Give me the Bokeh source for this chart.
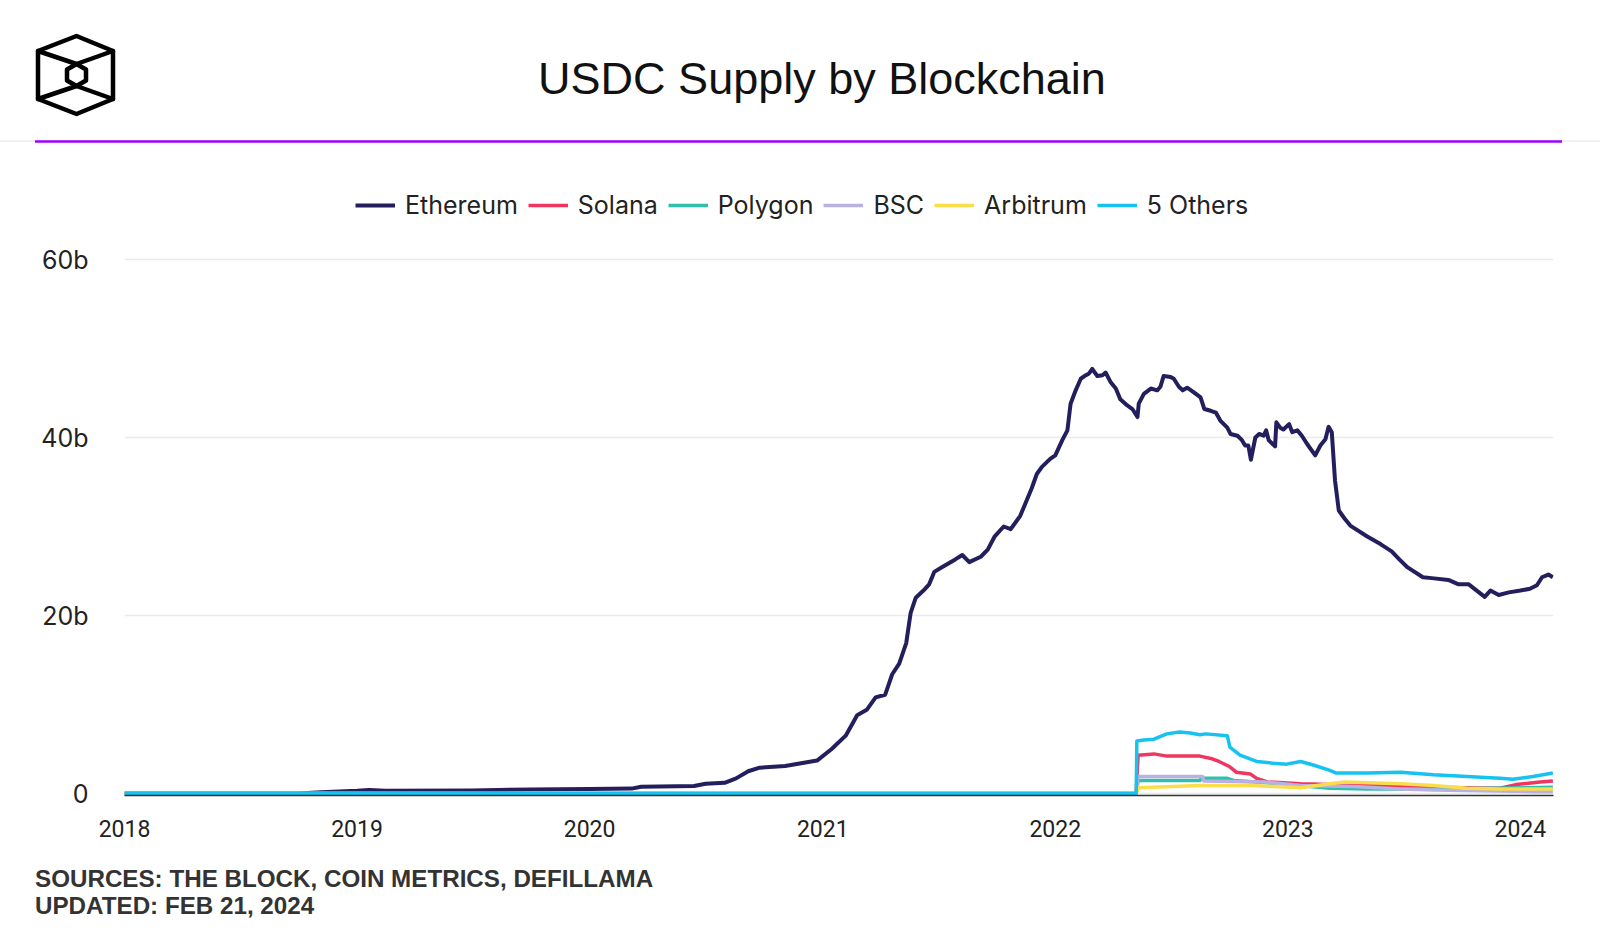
import pandas as pd
from bokeh.plotting import figure
from bokeh.models import Range1d, Legend, LegendItem, FixedTicker, DatetimeTickFormatter, Div
from bokeh.layouts import column
from bokeh.embed import file_html
from bokeh.resources import INLINE

# ---------------- data (billions of USDC) ----------------
TITLE = "USDC Supply by Blockchain"
SOURCE_LINE = "SOURCES: THE BLOCK, COIN METRICS, DEFILLAMA"
UPDATED_LINE = "UPDATED: FEB 21, 2024"
SERIES = ["Ethereum", "Solana", "Polygon", "BSC", "Arbitrum", "5 Others"]
COLORS = ["#231f5c", "#f0365f", "#2fbfaa", "#b7b2e3", "#fbdc4b", "#16c3f0"]
Y_TICKS = [0, 20, 40, 60]
Y_TICK_LABELS = ["0", "20b", "40b", "60b"]
X_TICK_YEARS = [2018, 2019, 2020, 2021, 2022, 2023, 2024]

eth_dates = [
    "2018-01-01", "2018-10-01", "2018-11-06", "2019-01-01", "2019-01-20", "2019-02-15",
    "2019-07-01", "2019-10-01", "2020-01-01", "2020-03-07", "2020-03-22", "2020-06-13",
    "2020-07-01", "2020-07-31", "2020-08-18", "2020-09-06", "2020-09-24", "2020-11-03",
    "2020-12-23", "2021-01-15", "2021-02-06", "2021-02-24", "2021-03-11", "2021-03-25",
    "2021-04-09", "2021-04-20", "2021-05-01", "2021-05-12", "2021-05-19", "2021-05-27",
    "2021-06-08", "2021-06-17", "2021-06-25", "2021-07-09", "2021-07-28", "2021-08-08",
    "2021-08-19", "2021-09-06", "2021-09-17", "2021-09-28", "2021-10-12", "2021-10-23",
    "2021-11-07", "2021-11-25", "2021-12-03", "2021-12-11", "2021-12-24",
    "2022-01-01", "2022-01-12", "2022-01-20", "2022-01-25", "2022-02-02", "2022-02-10",
    "2022-02-18", "2022-02-23", "2022-02-28", "2022-03-08", "2022-03-16", "2022-03-21",
    "2022-03-29", "2022-04-06", "2022-04-13", "2022-04-24", "2022-05-02", "2022-05-10",
    "2022-05-12", "2022-05-20", "2022-05-31", "2022-06-10", "2022-06-15", "2022-06-20",
    "2022-07-01", "2022-07-06", "2022-07-14", "2022-07-20", "2022-07-27", "2022-08-06",
    "2022-08-17", "2022-08-23", "2022-09-02", "2022-09-10", "2022-09-17", "2022-09-28",
    "2022-10-03", "2022-10-14", "2022-10-21", "2022-10-26", "2022-10-31", "2022-11-04",
    "2022-11-11", "2022-11-17", "2022-11-24", "2022-11-28", "2022-12-02", "2022-12-12",
    "2022-12-14", "2022-12-20", "2022-12-25", "2023-01-03", "2023-01-08", "2023-01-16",
    "2023-01-23", "2023-01-31", "2023-02-13", "2023-02-21", "2023-03-01", "2023-03-06",
    "2023-03-11", "2023-03-16", "2023-03-22", "2023-03-31", "2023-04-09", "2023-05-05",
    "2023-05-27", "2023-06-13", "2023-06-25", "2023-07-08", "2023-08-01", "2023-08-15",
    "2023-09-10", "2023-09-26", "2023-10-12", "2023-10-28", "2023-11-06", "2023-11-15",
    "2023-11-28", "2023-12-14", "2024-01-01", "2024-01-16", "2024-01-27", "2024-02-04",
    "2024-02-14", "2024-02-21",
]
eth_values = [
    0.0, 0.0, 0.15, 0.3, 0.4, 0.3,
    0.35, 0.45, 0.5, 0.55, 0.75, 0.85,
    1.1, 1.2, 1.7, 2.5, 2.9, 3.1,
    3.7, 5.0, 6.5, 8.8, 9.4, 10.8,
    11.1, 13.4, 14.6, 16.9, 20.3, 22.0,
    22.8, 23.5, 24.9, 25.5, 26.3, 26.8,
    26.0, 26.6, 27.4, 28.9, 30.0, 29.7,
    31.2, 34.3, 35.9, 36.7, 37.6,
    38.0, 39.7, 40.8, 43.8, 45.3, 46.6,
    47.0, 47.2, 47.7, 46.9, 47.0, 47.3,
    46.2, 45.5, 44.3, 43.6, 43.2, 42.3,
    43.8, 44.9, 45.5, 45.3, 45.7, 46.9,
    46.8, 46.6, 45.7, 45.3, 45.6, 45.1,
    44.5, 43.2, 43.0, 42.8, 41.9, 41.1,
    40.4, 40.2, 39.7, 39.1, 39.1, 37.5,
    40.0, 40.4, 40.2, 40.8, 39.7, 39.0,
    41.7, 41.1, 40.9, 41.5, 40.6, 40.8,
    40.2, 39.3, 38.0, 39.1, 39.8, 41.2,
    40.6, 35.2, 31.8, 30.9, 30.1, 28.9,
    28.0, 27.2, 26.3, 25.4, 24.3, 24.2,
    24.0, 23.5, 23.5, 22.6, 22.1, 22.8,
    22.3, 22.6, 22.8, 23.0, 23.4, 24.3,
    24.6, 24.3,
]

sol_dates = ["2018-01-01", "2022-05-08", "2022-05-11", "2022-06-05", "2022-06-25", "2022-08-16",
             "2022-09-04", "2022-09-15", "2022-10-02", "2022-10-12", "2022-11-03", "2022-11-13",
             "2022-11-30", "2023-01-21", "2023-03-08", "2023-08-18", "2023-11-30", "2023-12-25",
             "2024-02-01", "2024-02-21"]
sol_values = [0.0, 0.0, 4.3, 4.45, 4.2, 4.2,
              3.9, 3.6, 3.0, 2.4, 2.2, 1.7,
              1.3, 1.1, 1.0, 0.7, 0.6, 1.0,
              1.3, 1.4]

poly_dates = ["2018-01-01", "2022-05-08", "2022-05-11", "2022-08-16", "2022-08-18", "2022-09-28",
              "2022-10-08", "2022-11-30", "2023-03-08", "2023-05-06", "2023-08-18", "2024-02-21"]
poly_values = [0.0, 0.0, 1.46, 1.46, 1.7, 1.7,
               1.46, 1.2, 0.6, 0.5, 0.5, 0.7]

bsc_dates = ["2018-01-01", "2022-05-08", "2022-05-11", "2022-08-20", "2022-08-22", "2022-11-25",
             "2023-01-21", "2023-04-15", "2023-05-06", "2023-06-27", "2023-08-18", "2024-01-21",
             "2024-02-21"]
bsc_values = [0.0, 0.0, 1.9, 1.9, 1.4, 1.3,
              0.9, 0.8, 0.7, 0.5, 0.4, 0.2,
              0.2]

arb_dates = ["2018-01-01", "2022-05-08", "2022-05-11", "2022-08-16", "2022-11-05", "2023-01-21",
             "2023-03-08", "2023-04-01", "2023-06-27", "2023-08-18", "2023-10-09", "2023-11-30",
             "2024-02-21"]
arb_values = [0.0, 0.0, 0.64, 0.9, 0.9, 0.64,
              1.1, 1.3, 1.1, 0.9, 0.6, 0.5,
              0.5]

oth_dates = ["2018-01-01", "2022-05-08", "2022-05-09", "2022-05-20", "2022-06-05", "2022-06-25",
             "2022-07-15", "2022-08-01", "2022-08-16", "2022-08-25", "2022-09-28", "2022-10-02",
             "2022-10-18", "2022-11-13", "2022-12-09", "2022-12-30", "2023-01-21", "2023-02-10",
             "2023-03-08", "2023-03-18", "2023-05-06", "2023-06-27", "2023-08-18", "2023-10-09",
             "2023-11-30", "2023-12-20", "2024-01-21", "2024-02-21"]
oth_values = [0.0, 0.0, 5.9, 6.0, 6.1, 6.7,
              6.9, 6.8, 6.6, 6.7, 6.5, 5.2,
              4.3, 3.6, 3.4, 3.3, 3.6, 3.2,
              2.6, 2.3, 2.3, 2.4, 2.1, 1.9,
              1.7, 1.6, 1.9, 2.3]

series_data = [
    (eth_dates, eth_values), (sol_dates, sol_values), (poly_dates, poly_values),
    (bsc_dates, bsc_values), (arb_dates, arb_values), (oth_dates, oth_values),
]

# ---------------- layout ----------------
W = 1600
HEADER_H = 150
MAIN_H = 698
FOOTER_H = 85
FRAME_TOP = 35      # frame top inside main figure (legend row lives inside the frame)
FRAME_H = 610
PX_PER_B = 8.9
Y_MIN = -2.0 / PX_PER_B
Y_MAX = Y_MIN + FRAME_H / PX_PER_B

# Header: logo, title and separator lines (inline SVG with real text)
header_html = f"""
<svg xmlns="http://www.w3.org/2000/svg" width="{W}" height="{HEADER_H}" style="display:block">
  <g fill="none" stroke="#000000" stroke-width="4.5" stroke-linejoin="round" stroke-linecap="round">
    <polygon points="76.5,36 113,51 113,99 76.5,114 38,99 38,51"/>
    <polyline points="38,51 76.5,64 113,51"/>
    <polyline points="38,99 76.5,86 113,99"/>
    <polygon points="76.5,64 86,69.5 86,80.5 76.5,86 67,80.5 67,69.5"/>
  </g>
  <text x="822" y="94" text-anchor="middle" font-family="Inter" font-size="45px" fill="#111111">{TITLE}</text>
  <line x1="0" y1="141" x2="{W}" y2="141" stroke="#ececec" stroke-width="1.5"/>
  <line x1="35" y1="141.5" x2="1562" y2="141.5" stroke="#a100ff" stroke-width="2.5"/>
</svg>
"""
header = Div(text=header_html, width=W, height=HEADER_H, margin=0)

# Main chart
x_start = pd.Timestamp("2018-01-01")
x_end = pd.Timestamp("2024-02-22")
p = figure(width=W, height=MAIN_H, x_axis_type="datetime",
           x_range=Range1d(x_start, x_end), y_range=Range1d(Y_MIN, Y_MAX),
           output_backend="svg", toolbar_location=None,
           min_border_left=124, min_border_right=47, min_border_top=FRAME_TOP,
           min_border_bottom=MAIN_H - FRAME_TOP - FRAME_H,
           outline_line_color=None)

renderers = []
for (d, v), name, color in zip(series_data, SERIES, COLORS):
    lw = 4 if name == "Ethereum" else 3.5
    r = p.line(x=pd.to_datetime(d), y=v, line_color=color, line_width=lw, line_join="round")
    renderers.append((name, r))

p.ygrid.grid_line_color = "#ebebeb"
p.ygrid.grid_line_width = 1.5
p.xgrid.visible = False

p.yaxis.ticker = FixedTicker(ticks=Y_TICKS)
p.yaxis.major_label_overrides = {float(t): lab for t, lab in zip(Y_TICKS, Y_TICK_LABELS)}
p.yaxis.axis_line_color = None
p.yaxis.major_tick_line_color = None
p.yaxis.minor_tick_line_color = None
p.yaxis.major_tick_out = 0
p.yaxis.major_tick_in = 0
p.yaxis.major_label_standoff = 36
p.yaxis.major_label_text_font = "Inter"
p.yaxis.major_label_text_font_size = "25px"
p.yaxis.major_label_text_color = "#222222"

year_ms = [pd.Timestamp(f"{y}-01-01").timestamp() * 1000 for y in X_TICK_YEARS]
p.xaxis.ticker = FixedTicker(ticks=year_ms)
p.xaxis.formatter = DatetimeTickFormatter(years="%Y", months="%Y", days="%Y", hours="%Y")
p.xaxis.axis_line_color = "#333333"
p.xaxis.axis_line_width = 1.5
p.xaxis.major_tick_line_color = None
p.xaxis.minor_tick_line_color = None
p.xaxis.major_tick_out = 0
p.xaxis.major_tick_in = 0
p.xaxis.major_label_standoff = 24
p.xaxis.major_label_text_font = "Roboto"
p.xaxis.major_label_text_font_size = "23px"
p.xaxis.major_label_text_color = "#222222"

# legend row: bottom edge 575 px above the frame bottom, left edge 231 px right of frame left
legend = Legend(items=[LegendItem(label=n, renderers=[r]) for n, r in renderers],
                location=(231, 575), orientation="horizontal",
                glyph_width=40, glyph_height=28, label_height=28, label_standoff=10, spacing=10,
                padding=0, margin=0, background_fill_alpha=0, border_line_color=None,
                label_text_font="Inter", label_text_font_size="25px", label_text_color="#222222")
p.add_layout(legend)

# Footer (real text in inline SVG)
footer_html = f"""
<svg xmlns="http://www.w3.org/2000/svg" width="{W}" height="{FOOTER_H}" style="display:block">
  <g font-family="Liberation Sans" font-weight="bold" font-size="24.2px" fill="#333333">
    <text x="35" y="39">{SOURCE_LINE}</text>
    <text x="35" y="66">{UPDATED_LINE}</text>
  </g>
</svg>
"""
footer = Div(text=footer_html, width=W, height=FOOTER_H, margin=0)

layout = column(header, p, footer, spacing=0)
open("out.html", "w").write(file_html(layout, INLINE))
